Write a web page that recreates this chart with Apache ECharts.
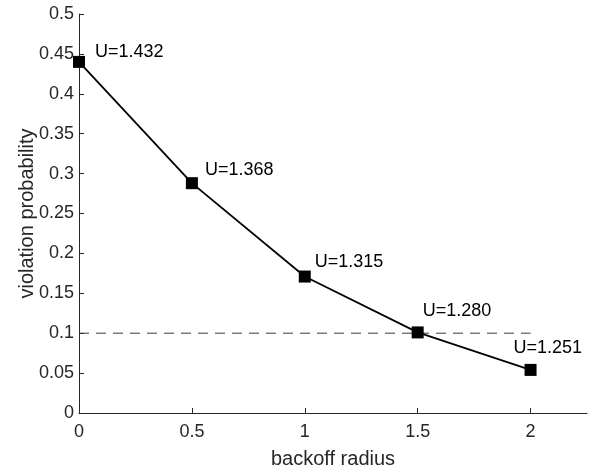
<!DOCTYPE html>
<html><head><meta charset="utf-8">
<script src="https://cdn.jsdelivr.net/npm/echarts@6/dist/echarts.min.js"></script>
<style>html,body{margin:0;padding:0;background:#fff}#c{width:598px;height:471px}</style>
</head><body><div id="c"></div>
<script>
var radius = [0, 0.5, 1, 1.5, 2];
var violation = [0.440, 0.288, 0.171, 0.101, 0.054];
var uLabels = ['U=1.432', 'U=1.368', 'U=1.315', 'U=1.280', 'U=1.251'];
var xTicks = [0, 0.5, 1, 1.5, 2];
var threshold = 0.1;
var thresholdRange = [0, 2];
// label placement (pixels from marker centre) - layout only
var labelOffsets = [[16, -10], [13, -13], [10, -15], [5, -21], [-17, -22]];

var font = 'Liberation Sans, Arial, Helvetica, sans-serif';
var axisColor = '#262626';
var chart = echarts.init(document.getElementById('c'), null, {renderer: 'canvas'});
chart.setOption({
  animation: false,
  grid: {left: 79, right: 11, top: 14, bottom: 58, containLabel: false, outerBoundsMode: 'none'},
  xAxis: {
    type: 'value', min: 0, max: 2.25, interval: 0.5,
    name: 'backoff radius', nameLocation: 'middle', nameGap: 36, nameMoveOverlap: false,
    nameTextStyle: {fontFamily: font, fontSize: 20, color: axisColor},
    axisLine: {show: true, lineStyle: {color: axisColor, width: 1}},
    axisTick: {show: true, inside: true, length: 5, customValues: xTicks, lineStyle: {color: axisColor}},
    axisLabel: {customValues: xTicks, fontFamily: font, fontSize: 18, color: axisColor, margin: 10},
    splitLine: {show: false}
  },
  yAxis: {
    type: 'value', min: 0, max: 0.5, interval: 0.05,
    name: 'violation probability', nameLocation: 'middle', nameGap: 42, nameMoveOverlap: false,
    nameTextStyle: {fontFamily: font, fontSize: 20, color: axisColor},
    axisLine: {show: true, lineStyle: {color: axisColor, width: 1}},
    axisTick: {show: true, inside: true, length: 5, lineStyle: {color: axisColor}},
    axisLabel: {fontFamily: font, fontSize: 18, color: axisColor, margin: 5,
      formatter: function (v) { return String(parseFloat(v.toFixed(2))); }},
    splitLine: {show: false}
  },
  series: [
    {
      type: 'line',
      data: thresholdRange.map(function (x) { return [x, threshold]; }),
      symbol: 'none',
      lineStyle: {color: '#3a3a3a', width: 1, type: [10, 7]},
      z: 1
    },
    {
      type: 'line',
      data: radius.map(function (x, i) {
        return {
          value: [x, violation[i]],
          label: {offset: labelOffsets[i]}
        };
      }),
      symbol: 'rect', symbolSize: 12,
      itemStyle: {color: '#000'},
      lineStyle: {color: '#000', width: 1.8},
      label: {
        show: true, position: [6, 6], align: 'left', verticalAlign: 'middle',
        fontFamily: font, fontSize: 18, color: '#000',
        formatter: function (p) { return uLabels[p.dataIndex]; }
      },
      z: 2
    }
  ]
});
</script></body></html>
